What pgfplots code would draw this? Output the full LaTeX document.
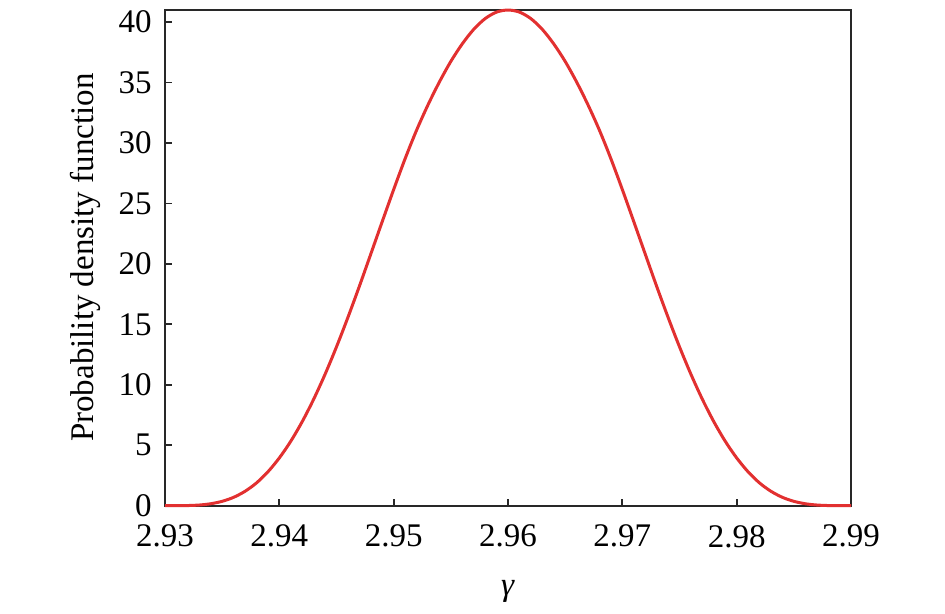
\documentclass[border=0pt]{standalone}
\usepackage{pgfplots}
\pgfplotsset{compat=1.18}
\usepackage{fontspec}
\setmainfont{Liberation Serif}
\definecolor{curvered}{RGB}{226,48,48}
\definecolor{axgray}{RGB}{40,40,40}
\begin{document}
\fontsize{16.5}{19}\selectfont
\begin{tikzpicture}[x=1pt,y=1pt]
\begin{axis}[
  at={(0,0)}, anchor=south west,
  width=343pt, height=248pt, scale only axis,
  xmin=2.93, xmax=2.99, ymin=0, ymax=41.03,
  xtick={2.93,2.94,2.95,2.96,2.97,2.98,2.99},
  xticklabels={2.93,2.94,2.95,2.96,2.97,2.98,2.99},
  ytick={0,5,10,15,20,25,30,35,40},
  yticklabels={0,5,10,15,20,25,30,35,40},
  xtick pos=left, ytick pos=left,
  tick align=inside,
  major tick length=3.5pt,
  axis line style={axgray, line width=0.9pt},
  every tick/.style={axgray, line width=0.9pt},
  tick label style={font=\fontsize{16.5}{19}\selectfont, text=black},
  xticklabel style={yshift=-4pt},
  yticklabel style={xshift=-1pt},
  xlabel={\textit{γ}},
  ylabel={Probability density function},
  label style={font=\fontsize{16.5}{19}\selectfont},
  xlabel style={yshift=-5pt},
  ylabel style={yshift=-2pt},
  clip=false,
]
\addplot[curvered, line width=1.5pt, smooth] table[x=g, y=p] {
g p
2.930 0
2.931 0.001
2.932 0.011
2.933 0.054
2.934 0.16
2.935 0.36
2.936 0.69
2.937 1.19
2.938 1.88
2.939 2.80
2.940 3.95
2.941 5.33
2.942 6.95
2.943 8.80
2.944 10.87
2.945 13.14
2.946 15.58
2.947 18.15
2.948 20.82
2.949 23.50
2.950 26.15
2.951 28.70
2.952 31.05
2.953 33.15
2.954 35.05
2.955 36.75
2.956 38.20
2.957 39.40
2.958 40.29
2.959 40.83
2.960 41.00
2.961 40.83
2.962 40.29
2.963 39.40
2.964 38.20
2.965 36.75
2.966 35.05
2.967 33.15
2.968 31.05
2.969 28.70
2.970 26.15
2.971 23.50
2.972 20.82
2.973 18.15
2.974 15.58
2.975 13.14
2.976 10.87
2.977 8.80
2.978 6.95
2.979 5.33
2.980 3.95
2.981 2.80
2.982 1.88
2.983 1.19
2.984 0.69
2.985 0.36
2.986 0.16
2.987 0.054
2.988 0.011
2.989 0.001
2.990 0
};
\end{axis}
\path (-82.5pt,-51pt) rectangle (390pt,249.5pt);
\end{tikzpicture}
\end{document}
